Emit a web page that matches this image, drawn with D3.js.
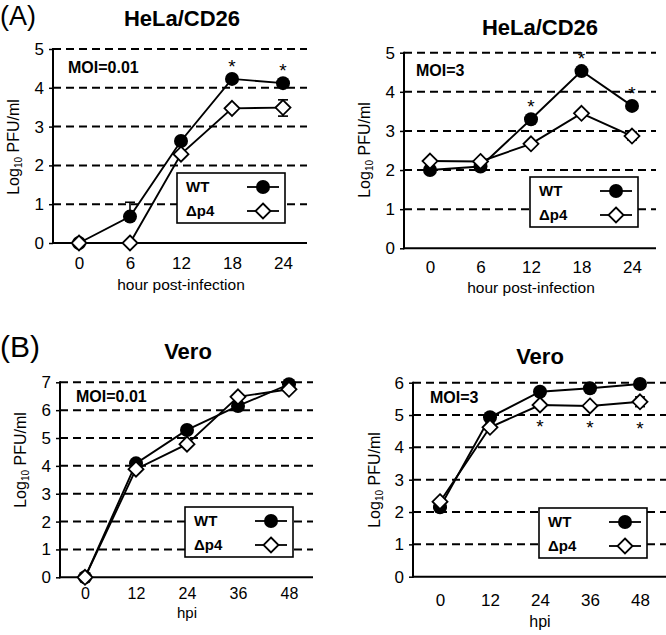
<!DOCTYPE html>
<html><head><meta charset="utf-8">
<script src="https://cdn.jsdelivr.net/npm/d3@7"></script>
<style>body{margin:0;background:#fff}svg{display:block}text{font-family:"Liberation Sans",Arial,sans-serif;fill:#000}</style>
</head><body>
<script>
// ---- data ----
const hoursA = [0, 6, 12, 18, 24];
const hoursB = [0, 12, 24, 36, 48];

const helaLowWT   = [0, 0.68, 2.63, 4.23, 4.12];
const helaLowWTErr = [[0,0],[0,0.37],[0,0],[0,0],[0,0]];
const helaLowP4   = [0, 0, 2.29, 3.47, 3.49];
const helaLowP4Err = [[0,0],[0,0],[0,0],[0,0],[0.22,0.2]];
const helaLowSig  = [18, 24];

const helaHighWT  = [2.0, 2.09, 3.3, 4.53, 3.64];
const helaHighWTErr = [[0,0],[0,0],[0,0],[0,0],[0.1,0.1]];
const helaHighP4  = [2.23, 2.22, 2.67, 3.45, 2.87];
const helaHighP4Err = [[0,0],[0,0],[0,0],[0,0],[0.1,0.1]];
const helaHighSig = [12, 18, 24];

const veroLowWT   = [0, 4.09, 5.29, 6.15, 6.93];
const veroLowWTErr = [[0,0],[0,0],[0,0],[0,0],[0,0]];
const veroLowP4   = [0, 3.88, 4.78, 6.48, 6.75];
const veroLowP4Err = [[0,0],[0,0],[0,0],[0,0],[0,0]];
const veroLowSig  = [];

const veroHighWT  = [2.15, 4.93, 5.72, 5.83, 5.96];
const veroHighWTErr = [[0,0],[0,0],[0,0],[0,0],[0,0]];
const veroHighP4  = [2.32, 4.62, 5.31, 5.28, 5.41];
const veroHighP4Err = [[0,0],[0,0],[0,0],[0,0],[0.15,0.15]];
const veroHighSig = [24, 36, 48];

const seriesNames = ["WT", "\u0394p4"];

// ---- drawing ----
const svg = d3.select("body").append("svg").attr("width", 666).attr("height", 635);

svg.append("text").attr("x", 0).attr("y", 25).attr("font-size", 27).attr("fill", "#222").text("(A)");
svg.append("text").attr("x", 0).attr("y", 357).attr("font-size", 30).attr("fill", "#222").text("(B)");

function panel(o) {
  const g = svg.append("g");
  const x = d3.scaleLinear().domain([o.xt[0], o.xt[o.xt.length-1]]).range([o.x0, o.x1]);
  const y = d3.scaleLinear().domain([0, o.ymax]).range([o.yb, o.yt]);
  const yTicks = d3.range(0, o.ymax + 1);

  // gridlines
  g.selectAll(".grid").data(yTicks.filter(v => v > 0)).join("line")
    .attr("x1", o.ax).attr("x2", o.right).attr("y1", d => y(d)).attr("y2", d => y(d))
    .attr("stroke", "#000").attr("stroke-width", 2).attr("stroke-dasharray", "8,5");

  // y axis
  const yAxis = d3.axisLeft(y).tickValues(yTicks).tickSize(4).tickPadding(5).tickFormat(d3.format("d"));
  const ya = g.append("g").attr("transform", `translate(${o.ax},0)`).call(yAxis);
  ya.select(".domain").remove();
  ya.selectAll("line").attr("stroke-width", 1.5);
  ya.selectAll("text").attr("font-size", 17).attr("font-family", "Liberation Sans, Arial, sans-serif").attr("fill", "#222");
  g.append("line").attr("x1", o.ax).attr("x2", o.ax).attr("y1", y(o.ymax) - 1).attr("y2", o.yb + 1)
    .attr("stroke", "#000").attr("stroke-width", 2);
  // x axis
  g.append("line").attr("x1", o.ax - 1).attr("x2", o.right).attr("y1", o.yb).attr("y2", o.yb)
    .attr("stroke", "#000").attr("stroke-width", 2);
  const xAxis = d3.axisBottom(x).tickValues(o.xt).tickSize(0).tickPadding(0).tickFormat(d3.format("d"));
  const xa = g.append("g").attr("transform", `translate(0,${o.xlabY})`).call(xAxis);
  xa.select(".domain").remove();
  xa.selectAll("text").attr("font-size", o.xfs).attr("dy", 0).attr("font-family", "Liberation Sans, Arial, sans-serif").attr("fill", "#222");

  // axis titles
  g.append("text").attr("x", (o.x0 + o.x1) / 2).attr("y", o.xtitleY).attr("text-anchor", "middle")
    .attr("font-size", o.xtfs).attr("fill", "#222").text(o.xtitle);
  const yl = g.append("text").attr("transform", `translate(${o.ylabX},${o.ylabY}) rotate(-90)`)
    .attr("text-anchor", "middle").attr("font-size", 16).attr("fill", "#222");
  yl.append("tspan").text("Log");
  yl.append("tspan").attr("font-size", 10).attr("dy", 3).text("10");
  yl.append("tspan").attr("dy", -3).text(" PFU/ml");

  // title and MOI
  g.append("text").attr("x", o.titleX).attr("y", o.titleY).attr("text-anchor", "middle")
    .attr("font-size", 22).attr("font-weight", "bold").attr("fill", "#111").text(o.title);
  g.append("text").attr("x", o.moiX).attr("y", o.moiY).attr("font-size", 16).attr("font-weight", "bold").attr("fill", "#111").text(o.moi);

  const line = d3.line().x((d, i) => x(o.xt[i])).y(d => y(d));
  const sets = [
    {v: o.wt, e: o.wtErr, type: "circle"},
    {v: o.p4, e: o.p4Err, type: "diamond"}
  ];
  // error bars
  sets.forEach(s => {
    s.v.forEach((v, i) => {
      const [lo, hi] = s.e[i];
      if (lo === 0 && hi === 0) return;
      const cx = x(o.xt[i]);
      g.append("line").attr("x1", cx).attr("x2", cx).attr("y1", y(v - lo)).attr("y2", y(v + hi))
        .attr("stroke", "#000").attr("stroke-width", 1.6);
      [lo ? v - lo : null, hi ? v + hi : null].forEach(c => {
        if (c === null) return;
        g.append("line").attr("x1", cx - 5).attr("x2", cx + 5).attr("y1", y(c)).attr("y2", y(c))
          .attr("stroke", "#000").attr("stroke-width", 1.6);
      });
    });
  });
  // lines
  sets.forEach(s => {
    g.append("path").datum(s.v).attr("d", line).attr("fill", "none").attr("stroke", "#000").attr("stroke-width", 1.9);
  });
  // markers
  const drawMarker = (type, cx, cy) => {
    if (type === "circle") {
      g.append("circle").attr("cx", cx).attr("cy", cy).attr("r", 7).attr("fill", "#000");
    } else {
      const r = 7.5;
      g.append("path").attr("d", `M${cx},${cy - r}L${cx + r},${cy}L${cx},${cy + r}L${cx - r},${cy}Z`)
        .attr("fill", "#fff").attr("stroke", "#000").attr("stroke-width", 1.8);
    }
  };
  sets.forEach(s => s.v.forEach((v, i) => drawMarker(s.type, x(o.xt[i]), y(v))));

  // significance stars
  o.sig.forEach(t => {
    const i = o.xt.indexOf(t);
    if (o.sigAbove) {
      g.append("text").attr("x", x(t)).attr("y", y(o.wt[i]) - 6).attr("text-anchor", "middle")
        .attr("font-size", 19).text("*");
    } else {
      g.append("text").attr("x", x(t)).attr("y", y(o.p4[i] - o.p4Err[i][0]) + 28).attr("text-anchor", "middle")
        .attr("font-size", 19).text("*");
    }
  });

  // legend
  const L = g.append("g").attr("transform", `translate(${o.legX},${o.legY})`);
  L.append("rect").attr("x", 0).attr("y", 0).attr("width", 108).attr("height", 50)
    .attr("fill", "#fff").attr("stroke", "#000").attr("stroke-width", 1.6);
  seriesNames.forEach((n, k) => {
    const ry = 14 + k * 24;
    L.append("text").attr("x", 9).attr("y", ry + 5).attr("font-size", 15).attr("font-weight", "bold").attr("fill", "#111").text(n);
    L.append("line").attr("x1", 70).attr("x2", 102).attr("y1", ry).attr("y2", ry).attr("stroke", "#000").attr("stroke-width", 1.8);
  });
  const mk = (type, cx, cy) => {
    if (type === "circle") L.append("circle").attr("cx", cx).attr("cy", cy).attr("r", 7).attr("fill", "#000");
    else L.append("path").attr("d", `M${cx},${cy - 7.5}L${cx + 7.5},${cy}L${cx},${cy + 7.5}L${cx - 7.5},${cy}Z`)
      .attr("fill", "#fff").attr("stroke", "#000").attr("stroke-width", 1.8);
  };
  mk("circle", 86, 14);
  mk("diamond", 86, 38);
}

panel({xt: hoursA, wt: helaLowWT, wtErr: helaLowWTErr, p4: helaLowP4, p4Err: helaLowP4Err, sig: helaLowSig, sigAbove: true,
  ymax: 5, ax: 53, right: 307, x0: 79, x1: 283, yt: 49, yb: 243, xlabY: 269, xfs: 17, xtitleY: 290, xtfs: 15.5, xtitle: "hour post-infection",
  ylabX: 19, ylabY: 147, title: "HeLa/CD26", titleX: 182, titleY: 26, moi: "MOI=0.01", moiX: 68, moiY: 73,
  legX: 177, legY: 173});

panel({xt: hoursA, wt: helaHighWT, wtErr: helaHighWTErr, p4: helaHighP4, p4Err: helaHighP4Err, sig: helaHighSig, sigAbove: true,
  ymax: 5, ax: 404, right: 656, x0: 430, x1: 632, yt: 52.7, yb: 248.3, xlabY: 273, xfs: 17, xtitleY: 293, xtfs: 15.5, xtitle: "hour post-infection",
  ylabX: 370, ylabY: 150, title: "HeLa/CD26", titleX: 540, titleY: 35, moi: "MOI=3", moiX: 416, moiY: 76,
  legX: 530, legY: 177});

panel({xt: hoursB, wt: veroLowWT, wtErr: veroLowWTErr, p4: veroLowP4, p4Err: veroLowP4Err, sig: veroLowSig, sigAbove: true,
  ymax: 7, ax: 60, right: 313, x0: 85, x1: 289, yt: 382.3, yb: 577.3, xlabY: 599, xfs: 16, xtitleY: 618, xtfs: 15, xtitle: "hpi",
  ylabX: 26, ylabY: 460, title: "Vero", titleX: 188, titleY: 359, moi: "MOI=0.01", moiX: 76, moiY: 402,
  legX: 185, legY: 507});

panel({xt: hoursB, wt: veroHighWT, wtErr: veroHighWTErr, p4: veroHighP4, p4Err: veroHighP4Err, sig: veroHighSig, sigAbove: false,
  ymax: 6, ax: 413, right: 666, x0: 440, x1: 640, yt: 382.7, yb: 576.7, xlabY: 606, xfs: 17, xtitleY: 627, xtfs: 16, xtitle: "hpi",
  ylabX: 380, ylabY: 480, title: "Vero", titleX: 540, titleY: 364, moi: "MOI=3", moiX: 430, moiY: 403,
  legX: 539, legY: 508});
</script>
</body></html>
